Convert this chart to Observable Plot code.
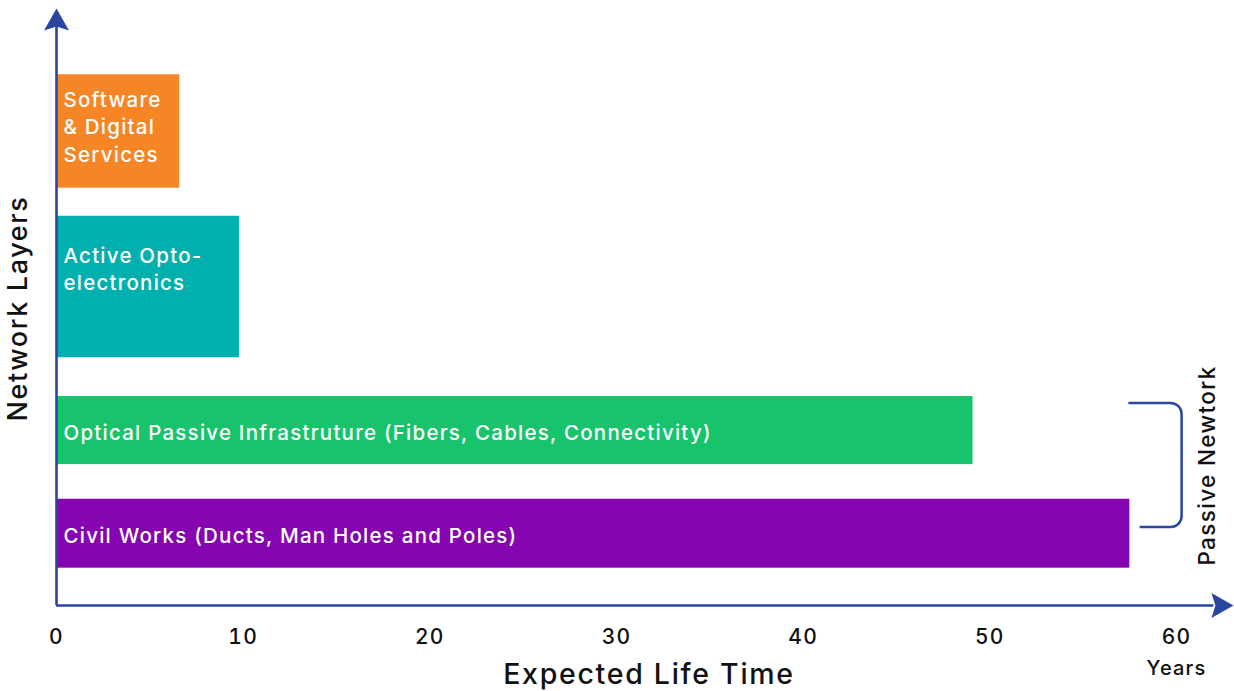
<!DOCTYPE html>
<html>
<head>
<meta charset="utf-8">
<script src="https://cdn.jsdelivr.net/npm/d3@7"></script>
<script src="https://cdn.jsdelivr.net/npm/@observablehq/plot@0.6"></script>
<style>
  html, body { margin: 0; padding: 0; background: #ffffff; }
  svg { display: block; }
  #chart svg text { letter-spacing: 0.06em; }
</style>
</head>
<body>
<div id="chart"></div>
<script>
// ---- Data ----
const layers = [
  "Software\n& Digital\nServices",
  "Active Opto-\nelectronics",
  "Optical Passive Infrastruture (Fibers, Cables, Connectivity)",
  "Civil Works (Ducts, Man Holes and Poles)"
];
const lifeYears = [6.6, 9.8, 49.1, 57.5];
const xTicks = [0, 10, 20, 30, 40, 50, 60];
const groupLabel = "Passive Newtork";
const xTitle = "Expected Life Time";
const xUnit = "Years";
const yTitle = "Network Layers";

// ---- Layout (vertical extents of each layer, in abstract layer units 0–100) ----
const layerBottom = [69.9, 41.5, 23.6, 6.25];
const layerTop = [88.9, 65.2, 35.0, 17.8];
const labelCenter = [80.35, 56.5, 29.2, 11.85];
const colors = ["#F68525", "#00B0AF", "#17C36B", "#8505B0"];
const axisColor = "#2B46A1";
const passiveGroup = {x1: 57.45, x2: 60.3, x3: 58.05, yTop: 33.85, yBottom: 13.05};

const rows = layers.map((name, i) => ({
  name, value: lifeYears[i], y1: layerBottom[i], y2: layerTop[i],
  ly: labelCenter[i], color: colors[i]
}));

// stealth arrowhead pointing up, tip at origin
const stealth = {
  draw(ctx) {
    ctx.moveTo(0, 0);
    ctx.lineTo(12.5, 22);
    ctx.lineTo(0, 18);
    ctx.lineTo(-12.5, 22);
    ctx.closePath();
  }
};

const brace = (index, scales) => {
  const {x, y} = scales;
  const p = d3.path();
  const r = 11;
  const xa = x(passiveGroup.x1), xb = x(passiveGroup.x2), xc = x(passiveGroup.x3);
  const yt = y(passiveGroup.yTop), yb = y(passiveGroup.yBottom);
  p.moveTo(xa, yt);
  p.arcTo(xb, yt, xb, yt + r, r);
  p.arcTo(xb, yb, xb - r, yb, r);
  p.lineTo(xc, yb);
  const el = document.createElementNS("http://www.w3.org/2000/svg", "path");
  el.setAttribute("d", p.toString());
  el.setAttribute("fill", "none");
  el.setAttribute("stroke", axisColor);
  el.setAttribute("stroke-width", 2.5);
  return el;
};

const chart = Plot.plot({
  width: 1234,
  height: 691,
  marginLeft: 56,
  marginRight: 58,
  marginTop: 8,
  marginBottom: 86,
  style: {fontFamily: "Inter, 'Open Sans', sans-serif", background: "#ffffff", color: "#111"},
  x: {domain: [0, 60]},
  y: {domain: [0, 100], axis: null},
  marks: [
    Plot.rect(rows, {x1: 0, x2: "value", y1: "y1", y2: "y2", fill: "color"}),
    Plot.text(rows, {x: 0, y: "ly", text: "name", dx: 7, textAnchor: "start", lineAnchor: "middle",
      fill: "white", fontSize: 20.5, fontWeight: 500, lineHeight: 1.32}),
    // axes lines
    Plot.ruleY([0], {x1: 0, x2: 62.0, stroke: axisColor, strokeWidth: 2.6}),
    Plot.ruleX([0], {y1: 0, y2: 98, stroke: axisColor, strokeWidth: 2.6}),
    Plot.dot([{x: 0, y: 100}], {x: "x", y: "y", symbol: stealth, fill: axisColor, stroke: null}),
    Plot.dot([{x: 63.05, y: 0}], {x: "x", y: "y", symbol: stealth, rotate: 90, fill: axisColor, stroke: null}),
    Plot.axisX({ticks: xTicks, tickSize: 0, tickPadding: 24, fontSize: 21, fontWeight: 500, label: null, tickFormat: d => String(d)}),
    // brace
    brace,
    Plot.text([groupLabel], {x: 61.66, y: 23.45, text: d => d, rotate: -90, fontSize: 22.5, fontWeight: 500, fill: "#111", lineAnchor: "middle"}),
    Plot.text([yTitle], {x: -2.02, y: 49.75, text: d => d, rotate: -90, fontSize: 27, fontWeight: 500, fill: "#111", lineAnchor: "middle"}),
    Plot.text([xTitle], {x: 31.74, y: -11.6, text: d => d, fontSize: 28.5, fontWeight: 500, fill: "#111", lineAnchor: "middle"}),
    Plot.text([xUnit], {x: 60, y: -10.6, text: d => d, fontSize: 20, fontWeight: 500, fill: "#111", lineAnchor: "middle"})
  ]
});
document.getElementById("chart").appendChild(chart);
</script>
</body>
</html>
